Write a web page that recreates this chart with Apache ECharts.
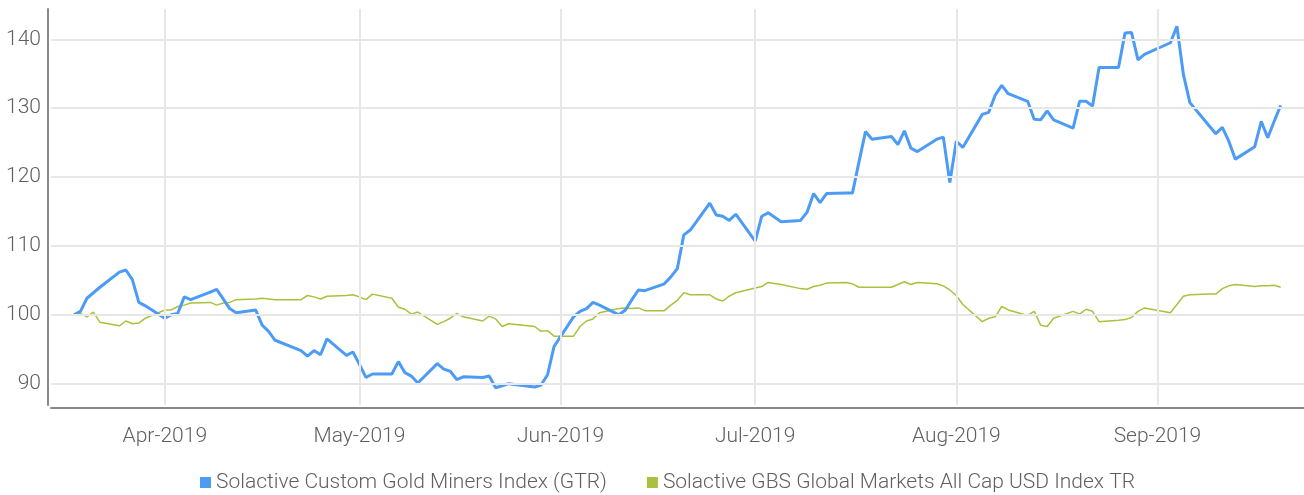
<!DOCTYPE html>
<html>
<head>
<meta charset="utf-8">
<script src="https://cdn.jsdelivr.net/npm/echarts@6/dist/echarts.min.js"></script>
<style>
html,body{margin:0;padding:0;background:#fff;}
#chart{width:1304px;height:495px;}
</style>
</head>
<body>
<div id="chart"></div>
<script>
const dates = [
  '2019-03-18','2019-03-19','2019-03-20','2019-03-21','2019-03-22','2019-03-25','2019-03-26','2019-03-27','2019-03-28','2019-03-29',
  '2019-04-01','2019-04-02','2019-04-03','2019-04-04','2019-04-05','2019-04-08','2019-04-09','2019-04-10','2019-04-11','2019-04-12','2019-04-15','2019-04-16','2019-04-17','2019-04-18','2019-04-22','2019-04-23','2019-04-24','2019-04-25','2019-04-26','2019-04-29','2019-04-30',
  '2019-05-01','2019-05-02','2019-05-03','2019-05-06','2019-05-07','2019-05-08','2019-05-09','2019-05-10','2019-05-13','2019-05-14','2019-05-15','2019-05-16','2019-05-17','2019-05-20','2019-05-21','2019-05-22','2019-05-23','2019-05-24','2019-05-28','2019-05-29','2019-05-30','2019-05-31',
  '2019-06-03','2019-06-04','2019-06-05','2019-06-06','2019-06-07','2019-06-10','2019-06-11','2019-06-12','2019-06-13','2019-06-14','2019-06-17','2019-06-18','2019-06-19','2019-06-20','2019-06-21','2019-06-24','2019-06-25','2019-06-26','2019-06-27','2019-06-28',
  '2019-07-01','2019-07-02','2019-07-03','2019-07-05','2019-07-08','2019-07-09','2019-07-10','2019-07-11','2019-07-12','2019-07-15','2019-07-16','2019-07-17','2019-07-18','2019-07-19','2019-07-22','2019-07-23','2019-07-24','2019-07-25','2019-07-26','2019-07-29','2019-07-30','2019-07-31',
  '2019-08-01','2019-08-02','2019-08-05','2019-08-06','2019-08-07','2019-08-08','2019-08-09','2019-08-12','2019-08-13','2019-08-14','2019-08-15','2019-08-16','2019-08-19','2019-08-20','2019-08-21','2019-08-22','2019-08-23','2019-08-26','2019-08-27','2019-08-28','2019-08-29','2019-08-30',
  '2019-09-03','2019-09-04','2019-09-05','2019-09-06','2019-09-09','2019-09-10','2019-09-11','2019-09-12','2019-09-13','2019-09-16','2019-09-17','2019-09-18','2019-09-19','2019-09-20'
];
const goldMiners = [
  100.0,100.5,102.4,103.2,104.0,106.2,106.5,105.1,101.8,101.3,
  99.5,100.0,100.2,102.6,102.2,103.3,103.7,102.3,100.9,100.3,100.7,98.5,97.6,96.3,94.8,94.0,94.8,94.2,96.5,94.1,94.6,
  92.8,90.9,91.4,91.4,93.2,91.6,91.1,90.1,92.9,92.1,91.8,90.6,91.0,90.9,91.1,89.4,89.7,90.0,89.5,89.8,91.3,95.4,
  99.7,100.5,100.9,101.8,101.4,100.0,100.7,102.2,103.6,103.5,104.5,105.5,106.7,111.6,112.3,116.2,114.5,114.3,113.7,114.6,
  110.7,114.3,114.8,113.5,113.7,114.9,117.6,116.3,117.6,117.7,117.7,122.2,126.6,125.5,125.9,124.7,126.7,124.2,123.7,125.5,125.8,119.2,
  125.2,124.3,129.1,129.4,131.9,133.3,132.1,131.0,128.4,128.3,129.6,128.3,127.1,131.0,131.0,130.3,135.9,135.9,140.9,141.0,137.0,137.8,
  139.5,141.9,134.9,130.8,127.4,126.3,127.2,125.2,122.6,124.4,128.1,125.7,128.1,130.4
];
const globalMarkets = [
  100.0,100.2,99.7,100.4,98.9,98.4,99.1,98.7,98.8,99.5,
  100.7,100.7,101.2,101.4,101.7,101.8,101.4,101.7,101.8,102.2,102.3,102.4,102.3,102.2,102.2,102.8,102.6,102.3,102.7,102.8,102.9,
  102.6,102.2,103.0,102.4,101.1,100.8,100.1,100.4,98.6,99.0,99.5,100.2,99.7,99.1,99.8,99.4,98.3,98.7,98.3,97.6,97.7,96.9,
  96.9,98.3,99.1,99.4,100.3,100.9,101.0,100.9,101.0,100.6,100.6,101.4,102.1,103.2,102.9,102.9,102.3,102.0,102.7,103.2,
  103.9,104.1,104.7,104.4,103.8,103.7,104.1,104.3,104.6,104.7,104.5,104.0,104.0,104.0,104.0,104.4,104.8,104.4,104.7,104.5,104.2,103.6,
  102.8,101.5,99.0,99.5,99.7,101.2,100.7,99.9,100.5,98.5,98.3,99.5,100.5,100.1,100.8,100.5,99.0,99.2,99.3,99.6,100.5,101.0,
  100.3,101.5,102.7,102.9,103.0,103.0,103.8,104.2,104.4,104.1,104.2,104.2,104.3,104.0
];
const seriesNames = ['Solactive Custom Gold Miners Index (GTR)', 'Solactive GBS Global Markets All Cap USD Index TR'];
const yTicks = [90, 100, 110, 120, 130, 140];
const monthTicks = ['2019-04-01','2019-05-01','2019-06-01','2019-07-01','2019-08-01','2019-09-01'];
const monthNames = ['Jan','Feb','Mar','Apr','May','Jun','Jul','Aug','Sep','Oct','Nov','Dec'];

function toTs(s) { const p = s.split('-').map(Number); return Date.UTC(p[0], p[1] - 1, p[2]); }
const DAY = 86400000;
const xMin = toTs('2019-04-01') - 17.54 * DAY;
const xMax = xMin + 193.13 * DAY;

const FONT = "Roboto, 'Noto Sans', sans-serif";
const TXT = '#606060';
const GRID = '#e7e7e7';

const chart = echarts.init(document.getElementById('chart'), null, {renderer: 'canvas'});
chart.setOption({
  animation: false,
  backgroundColor: '#ffffff',
  grid: {left: 51, right: 0, top: 9, bottom: 90, containLabel: false},
  legend: {
    left: 195, top: 467,
    itemWidth: 11, itemHeight: 11, itemGap: 40,
    icon: 'rect',
    textStyle: {fontFamily: FONT, fontSize: 21, color: TXT, fontWeight: 300},
    data: seriesNames
  },
  xAxis: {
    type: 'value', min: xMin, max: xMax, offset: 3,
    axisLine: {show: true, onZero: false, lineStyle: {color: '#888888', width: 2}},
    axisTick: {show: false},
    splitLine: {show: false},
    axisLabel: {
      customValues: monthTicks.map(toTs),
      margin: 18,
      fontFamily: FONT, fontSize: 21, color: TXT, fontWeight: 300,
      formatter: function (v) { const d = new Date(v); return monthNames[d.getUTCMonth()] + '-' + d.getUTCFullYear(); }
    }
  },
  yAxis: {
    type: 'value', min: 86.9, max: 144.4, offset: 3,
    axisLine: {show: true, onZero: false, lineStyle: {color: '#888888', width: 2}},
    axisTick: {show: false},
    splitLine: {show: false},
    axisLabel: {
      customValues: yTicks,
      margin: 7,
      fontFamily: FONT, fontSize: 21, color: TXT, fontWeight: 300
    }
  },
  series: [
    {
      name: 'grid', type: 'line', data: [], z: 1, silent: true,
      markLine: {
        silent: true, symbol: ['none', 'none'], animation: false,
        label: {show: false},
        lineStyle: {color: GRID, width: 2, type: 'solid'},
        data: yTicks.map(v => ({yAxis: v})).concat(monthTicks.map(m => ({xAxis: toTs(m)})))
      }
    },
    {
      name: seriesNames[0], type: 'line', z: 3,
      data: dates.map((d, i) => [toTs(d), goldMiners[i]]),
      showSymbol: false, symbol: 'none',
      lineStyle: {color: '#4c9cf6', width: 3},
      itemStyle: {color: '#4c9cf6'}
    },
    {
      name: seriesNames[1], type: 'line', z: 2,
      data: dates.map((d, i) => [toTs(d), globalMarkets[i]]),
      showSymbol: false, symbol: 'none',
      lineStyle: {color: '#a8c23c', width: 1.5},
      itemStyle: {color: '#a8c23c'}
    }
  ]
});
</script>
</body>
</html>
